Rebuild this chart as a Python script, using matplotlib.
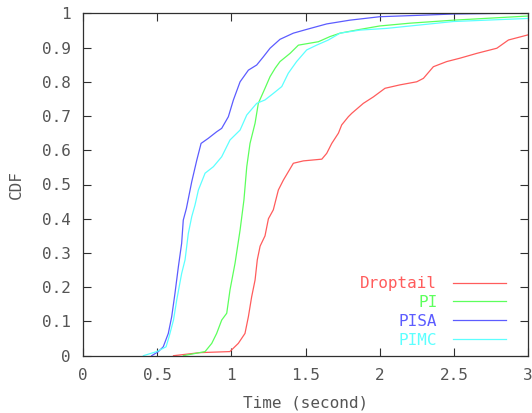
import numpy as np
from matplotlib import pyplot as plt

# CDF curves (time in seconds, cumulative fraction)
t_drop   = [0.61, 0.79, 0.99, 1.047, 1.092, 1.115, 1.137, 1.16, 1.175, 1.194, 1.227, 1.25, 1.283,
            1.317, 1.351, 1.418, 1.486, 1.61, 1.643, 1.677, 1.722, 1.744, 1.789, 1.812, 1.89,
            1.958, 2.036, 2.137, 2.25, 2.295, 2.362, 2.452, 2.542, 2.655, 2.79, 2.868, 3.0]
cdf_drop = [0.0, 0.009, 0.012, 0.036, 0.065, 0.114, 0.172, 0.221, 0.28, 0.32, 0.35, 0.40, 0.426,
            0.484, 0.513, 0.562, 0.569, 0.574, 0.591, 0.62, 0.65, 0.674, 0.698, 0.708, 0.737,
            0.756, 0.781, 0.791, 0.80, 0.81, 0.844, 0.859, 0.869, 0.883, 0.898, 0.922, 0.937]

t_pi     = [0.676, 0.823, 0.868, 0.901, 0.935, 0.969, 0.991, 1.025, 1.059, 1.085, 1.104, 1.126,
            1.16, 1.182, 1.227, 1.261, 1.296, 1.328, 1.396, 1.452, 1.587, 1.665, 1.733, 1.868,
            2.0, 2.2, 2.5, 3.0]
cdf_pi   = [0.0, 0.012, 0.036, 0.065, 0.104, 0.124, 0.192, 0.27, 0.367, 0.455, 0.552, 0.62,
            0.679, 0.737, 0.781, 0.815, 0.84, 0.859, 0.883, 0.907, 0.917, 0.932, 0.942, 0.953,
            0.963, 0.971, 0.98, 0.992]

t_pisa   = [0.463, 0.508, 0.541, 0.575, 0.598, 0.62, 0.643, 0.665, 0.676, 0.697, 0.733, 0.767,
            0.796, 0.845, 0.901, 0.935, 0.98, 1.014, 1.059, 1.115, 1.171, 1.216, 1.261, 1.328,
            1.418, 1.508, 1.643, 1.80, 2.0, 2.32, 2.5, 2.85, 3.0]
cdf_pisa = [0.0, 0.012, 0.026, 0.065, 0.114, 0.182, 0.26, 0.328, 0.396, 0.43, 0.508, 0.571,
            0.62, 0.635, 0.654, 0.664, 0.698, 0.747, 0.80, 0.834, 0.849, 0.873, 0.898, 0.924,
            0.942, 0.953, 0.969, 0.98, 0.99, 0.995, 0.998, 1.0, 1.0]

t_pimc   = [0.407, 0.497, 0.56, 0.58, 0.61, 0.632, 0.665, 0.688, 0.71, 0.733, 0.755, 0.778,
            0.823, 0.879, 0.935, 0.991, 1.059, 1.104, 1.171, 1.227, 1.283, 1.34, 1.384, 1.44,
            1.508, 1.575, 1.654, 1.733, 1.868, 2.048, 2.273, 2.497, 3.0]
cdf_pimc = [0.0, 0.012, 0.026, 0.055, 0.104, 0.163, 0.24, 0.28, 0.357, 0.406, 0.44, 0.484,
            0.533, 0.552, 0.581, 0.63, 0.659, 0.703, 0.737, 0.747, 0.766, 0.786, 0.825, 0.859,
            0.893, 0.907, 0.922, 0.942, 0.951, 0.956, 0.966, 0.976, 0.985]

labels = ['Droptail', 'PI', 'PISA', 'PIMC']
colors = ['#ff5c5c', '#5cff5c', '#5c5cff', '#5cffff']

plt.rcParams['font.family'] = ['DejaVu Sans Mono']
fs  = 11.5
txt = '#555555'

fig = plt.figure(figsize=(5.32, 4.13), dpi=100)
ax  = fig.add_axes([83/532, 57.3/413, 445/532, 342.4/413])

for t, c, lab, col in zip([t_drop, t_pi, t_pisa, t_pimc],
                          [cdf_drop, cdf_pi, cdf_pisa, cdf_pimc], labels, colors):
	ax.plot(t, c, color=col, lw=0.9, label=lab)

ax.set_xlim(0, 3)
ax.set_ylim(0, 1)
ax.set_xticks(np.arange(0, 3.01, 0.5))
ax.set_xticklabels(['0', '0.5', '1', '1.5', '2', '2.5', '3'])
ax.set_yticks(np.arange(0, 1.01, 0.1))
ax.set_yticklabels(['0'] + ['%.1f' % v for v in np.arange(0.1, 0.95, 0.1)] + ['1'])
ax.tick_params(direction='in', length=6, width=0.8, top=True, right=True,
               labelsize=fs, labelcolor=txt, color='#303030', pad=9)
for s in ax.spines.values():
	s.set_linewidth(0.9)
	s.set_color('#303030')
ax.set_xlabel('Time (second)', fontsize=fs, color=txt, labelpad=9)
ax.set_ylabel('CDF', fontsize=fs, color=txt, labelpad=13)

leg = ax.legend(loc='lower right', bbox_to_anchor=(1 - 22/445, 8/342.4), frameon=False,
                markerfirst=False, handlelength=3.3, handletextpad=1.0, labelspacing=0.24,
                borderpad=0, borderaxespad=0, fontsize=fs, labelcolor='linecolor')

plt.savefig('out.png', dpi=100)
